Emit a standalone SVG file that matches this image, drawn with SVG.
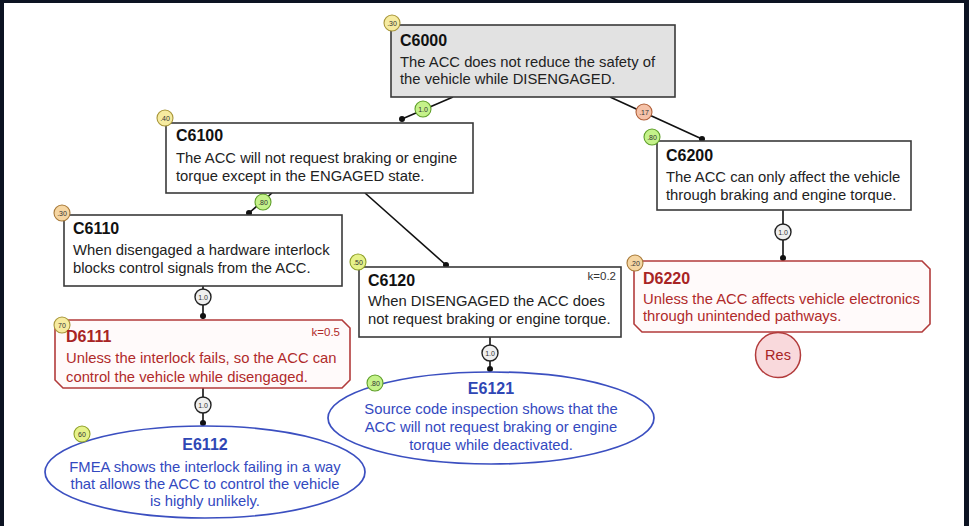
<svg xmlns="http://www.w3.org/2000/svg" width="969" height="526" viewBox="0 0 969 526">
<defs>
<style>
text{font-family:"Liberation Sans",Arial,Helvetica,sans-serif}
.box{fill:#fff;stroke:#3a3a3a;stroke-width:1.6}
.gray{fill:#e2e2e2}
.t{font-size:16px;font-weight:bold;fill:#111}
.b{font-size:14.8px;fill:#222}
.k{font-size:11.5px;fill:#333;text-anchor:end}
.def{fill:#fffafa;stroke:#b23b3b;stroke-width:1.6}
.dt{font-size:16px;font-weight:bold;fill:#a82424}
.db{font-size:14.8px;fill:#b02a2a}
.dk{font-size:11.5px;fill:#b02a2a;text-anchor:end}
.ev{fill:#fff;stroke:#3b4fc0;stroke-width:1.7}
.et{font-size:16px;font-weight:bold;fill:#2f47b5;text-anchor:middle}
.eb{font-size:14.8px;fill:#3349c0;text-anchor:middle}
.ln{stroke:#111;stroke-width:1.6;fill:none}
.dot{fill:#111}
.bt{font-size:7px;fill:#333;text-anchor:middle}
.by{fill:#f6eba0;stroke:#a8963a;stroke-width:1.1}
.bo{fill:#f6d6a2;stroke:#a87a3a;stroke-width:1.1}
.bg{fill:#c5f28a;stroke:#5f9f2a;stroke-width:1.1}
.byg{fill:#e6f28a;stroke:#8fa02a;stroke-width:1.1}
.br{fill:#f5c2a8;stroke:#b0603a;stroke-width:1.1}
.bgr{fill:#efefef;stroke:#222;stroke-width:1.4}
</style>
</defs>
<rect x="0" y="0" width="969" height="526" fill="#0c1322"/>
<rect x="4" y="3" width="960" height="523" fill="#fff"/>

<g id="connectors">
<line class="ln" x1="453" y1="97" x2="402" y2="119"/>
<circle class="dot" cx="402" cy="119" r="3"/>
<circle class="bg" cx="423" cy="109" r="8"/><text class="bt" x="423" y="111.5">1.0</text>
<line class="ln" x1="610" y1="97" x2="702" y2="139"/>
<circle class="dot" cx="702" cy="139" r="3"/>
<circle class="br" cx="644" cy="112" r="8"/><text class="bt" x="644" y="114.5">.17</text>
<line class="ln" x1="272" y1="193" x2="249" y2="213"/>
<circle class="dot" cx="249" cy="213" r="3"/>
<circle class="bg" cx="263" cy="202" r="8"/><text class="bt" x="263" y="204.5">.80</text>
<line class="ln" x1="365" y1="193" x2="446" y2="265"/>
<circle class="dot" cx="446" cy="265" r="3"/>
<line class="ln" x1="783" y1="210" x2="783" y2="261"/>
<circle class="dot" cx="783" cy="258" r="3"/>
<circle class="bgr" cx="783" cy="232" r="8"/><text class="bt" x="783" y="234.5">1.0</text>
<line class="ln" x1="203" y1="286" x2="203" y2="319"/>
<circle class="dot" cx="203" cy="316" r="3"/>
<circle class="bgr" cx="203" cy="297" r="8"/><text class="bt" x="203" y="299.5">1.0</text>
<line class="ln" x1="490" y1="337" x2="490" y2="372"/>
<circle class="dot" cx="490" cy="369" r="3"/>
<circle class="bgr" cx="490" cy="353" r="8"/><text class="bt" x="490" y="355.5">1.0</text>
<line class="ln" x1="203" y1="388" x2="203" y2="426"/>
<circle class="dot" cx="203" cy="423" r="3"/>
<circle class="bgr" cx="203" cy="405" r="8"/><text class="bt" x="203" y="407.5">1.0</text>
</g>

<g id="C6000">
<rect class="box gray" x="391" y="25" width="284" height="72"/>
<circle class="by" cx="392" cy="23" r="8"/><text class="bt" x="392" y="25.5">.30</text>
<text class="t" x="400" y="46">C6000</text>
<text class="b" x="400" y="67">The ACC does not reduce the safety of</text>
<text class="b" x="400" y="84">the vehicle while DISENGAGED.</text>
</g>

<g id="C6100">
<rect class="box" x="166" y="123" width="307" height="70"/>
<circle class="by" cx="165" cy="118" r="8"/><text class="bt" x="165" y="120.5">.40</text>
<text class="t" x="176" y="141">C6100</text>
<text class="b" x="176" y="163">The ACC will not request braking or engine</text>
<text class="b" x="176" y="181">torque except in the ENGAGED state.</text>
</g>

<g id="C6200">
<rect class="box" x="657" y="141" width="254" height="69"/>
<circle class="bg" cx="652" cy="137" r="8"/><text class="bt" x="652" y="139.5">.80</text>
<text class="t" x="666" y="161">C6200</text>
<text class="b" x="666" y="182">The ACC can only affect the vehicle</text>
<text class="b" x="666" y="200">through braking and engine torque.</text>
</g>

<g id="C6110">
<rect class="box" x="64" y="215" width="278" height="71"/>
<circle class="bo" cx="62" cy="213" r="8"/><text class="bt" x="62" y="215.5">.30</text>
<text class="t" x="73" y="234">C6110</text>
<text class="b" x="73" y="255">When disengaged a hardware interlock</text>
<text class="b" x="73" y="273">blocks control signals from the ACC.</text>
</g>

<g id="C6120">
<rect class="box" x="359" y="267" width="262" height="70"/>
<circle class="byg" cx="358" cy="262" r="8"/><text class="bt" x="358" y="264.5">.50</text>
<text class="t" x="368" y="286">C6120</text>
<text class="k" x="616" y="280">k=0.2</text>
<text class="b" x="368" y="306">When DISENGAGED the ACC does</text>
<text class="b" x="368" y="324">not request braking or engine torque.</text>
</g>

<g id="D6220">
<path class="def" d="M642,261 H922 L930,269 V324 L922,332 H642 L634,324 V269 Z"/>
<circle class="bo" cx="635" cy="263" r="8"/><text class="bt" x="635" y="265.5">.20</text>
<text class="dt" x="643" y="284">D6220</text>
<text class="db" x="643" y="304">Unless the ACC affects vehicle electronics</text>
<text class="db" x="643" y="321">through unintended pathways.</text>
</g>

<g id="Res">
<circle cx="778" cy="355" r="22.5" fill="#f9d9dc" stroke="#b23b3b" stroke-width="1.5"/>
<text x="778" y="360" font-size="14.5" fill="#a82424" text-anchor="middle">Res</text>
</g>

<g id="D6111">
<path class="def" d="M63,320 H342 L350,328 V380 L342,388 H63 L55,380 V328 Z"/>
<circle class="by" cx="62" cy="325" r="8"/><text class="bt" x="62" y="327.5">70</text>
<text class="dt" x="66" y="342">D6111</text>
<text class="dk" x="340" y="336">k=0.5</text>
<text class="db" x="66" y="363">Unless the interlock fails, so the ACC can</text>
<text class="db" x="66" y="382">control the vehicle while disengaged.</text>
</g>

<g id="E6121">
<ellipse class="ev" cx="491" cy="418" rx="163" ry="46"/>
<circle class="bg" cx="375" cy="383" r="8"/><text class="bt" x="375" y="385.5">.80</text>
<text class="et" x="491" y="394">E6121</text>
<text class="eb" x="491" y="414">Source code inspection shows that the</text>
<text class="eb" x="491" y="432">ACC will not request braking or engine</text>
<text class="eb" x="491" y="450">torque while deactivated.</text>
</g>

<g id="E6112">
<ellipse class="ev" cx="205" cy="472" rx="160" ry="46"/>
<circle class="byg" cx="82" cy="434" r="8"/><text class="bt" x="82" y="436.5">60</text>
<text class="et" x="205" y="450">E6112</text>
<text class="eb" x="205" y="472">FMEA shows the interlock failing in a way</text>
<text class="eb" x="205" y="489">that allows the ACC to control the vehicle</text>
<text class="eb" x="205" y="506">is highly unlikely.</text>
</g>
</svg>
